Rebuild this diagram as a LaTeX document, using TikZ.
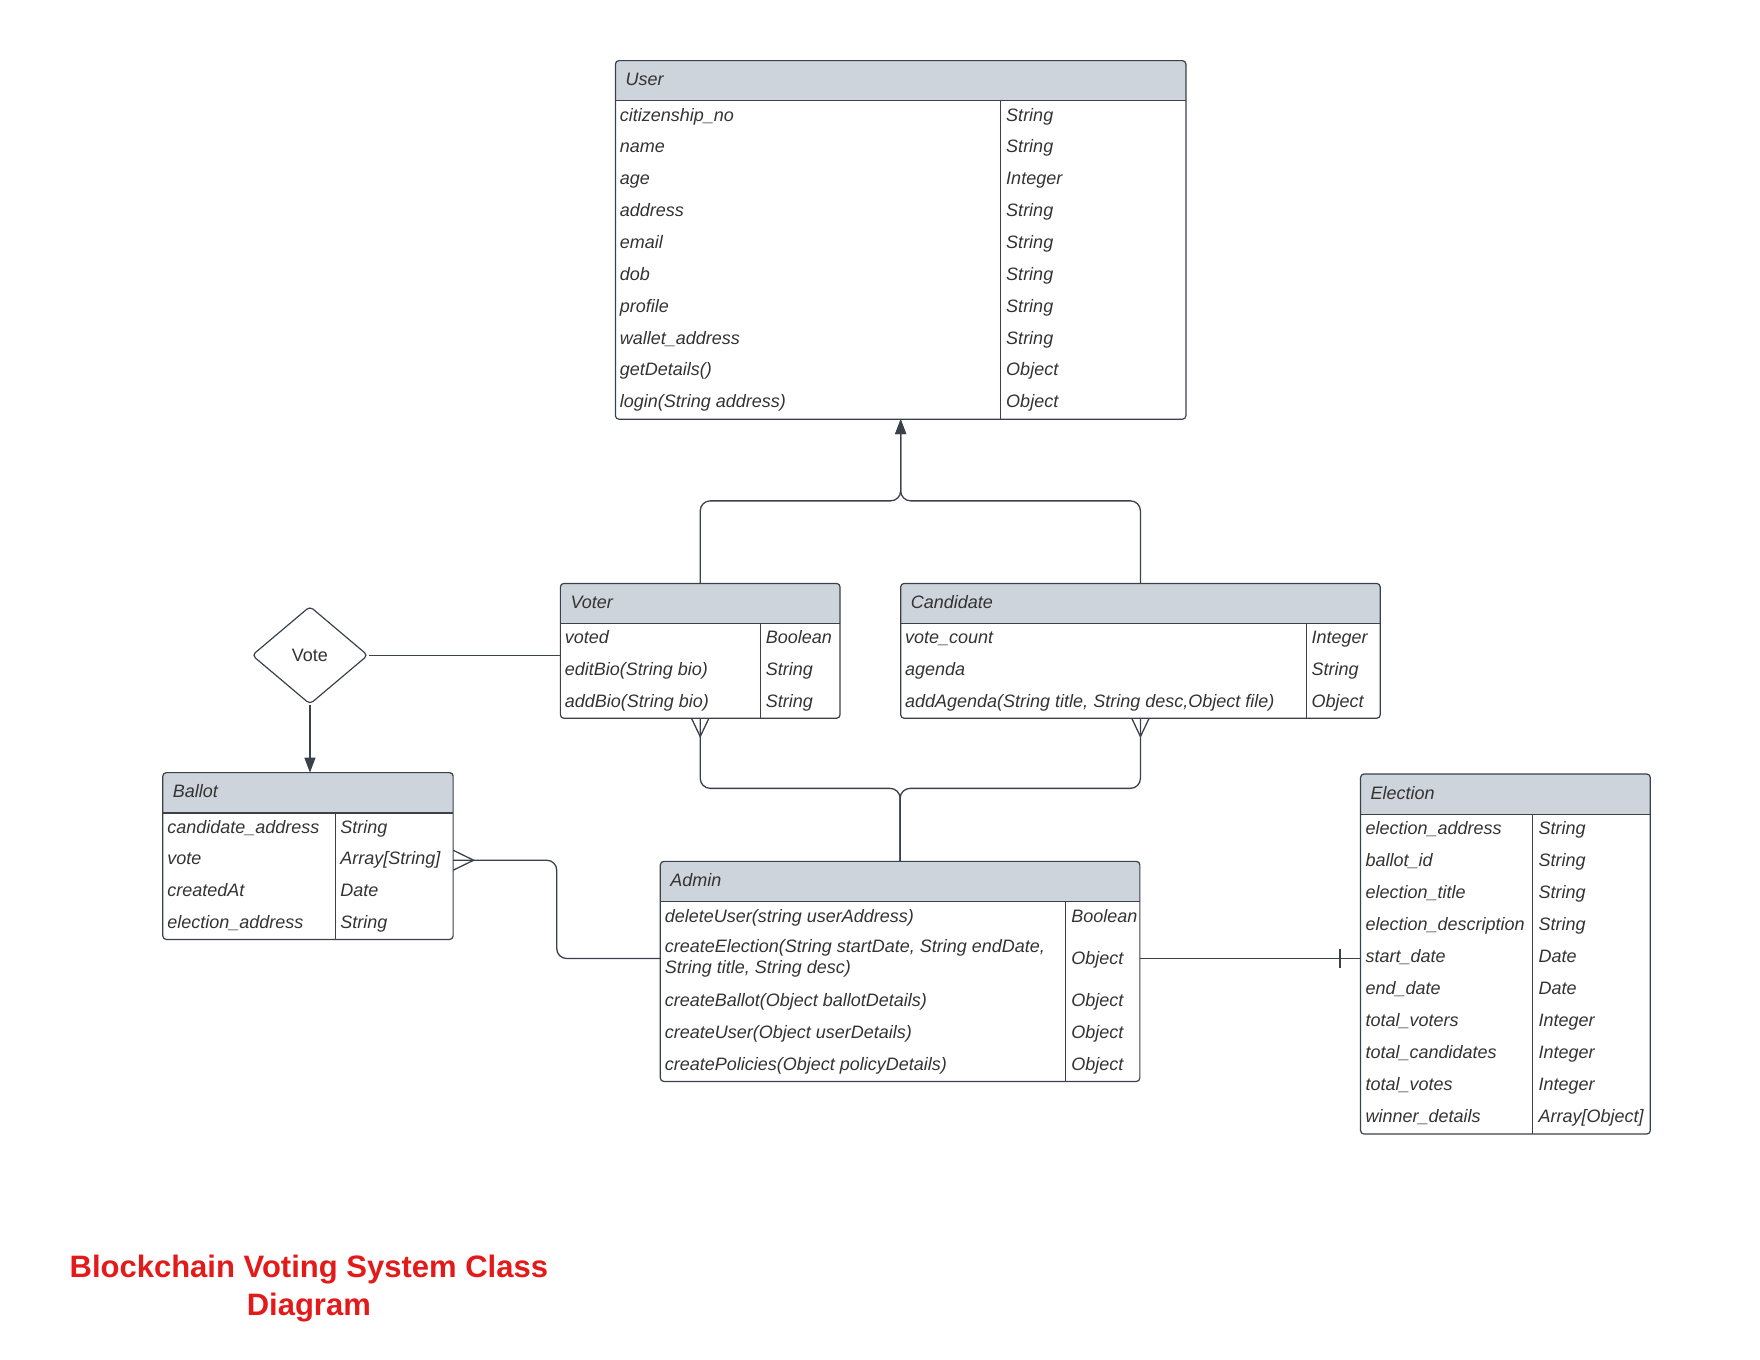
\documentclass[tikz,border=0pt]{standalone}
\usepackage{fontspec}
\setmainfont{Liberation Sans}
\usetikzlibrary{arrows.meta,shapes.geometric,calc,fit}
\definecolor{linec}{HTML}{3A414A}
\definecolor{headf}{HTML}{CED4DB}
\definecolor{txt}{HTML}{333333}
\definecolor{titlered}{HTML}{E41A1A}
\newcommand\umlclass[8]{%
  \fill[headf, rounded corners=3.5pt] (#2,#3) rectangle (#4,#5);
  \fill[headf] (#2,#3+6) rectangle (#4,#5);
  \draw[linec, line width=1.2pt] (#2,#5) -- (#4,#5);
  \draw[linec, line width=1pt] (#7,#5) -- (#7,#6);
  \node[boxframe, fit={(#2,#3) (#4,#6)}] (#1) {};
  \node[rowtext] (#1-title) at ({#2+9},{(#3+#5)/2+4.5}) {#8};
}
\newcommand\crow[6]{%
  \node[rowtext] (#1a) at (#2,#4) {#5};
  \node[rowtext] (#1b) at (#3,#4) {#6};
}
\begin{document}
\begin{tikzpicture}[x=1.123pt,y=-1.123pt,
  rowtext/.style={anchor=base west, inner sep=0pt, outer sep=0pt, text=txt, font=\fontsize{18}{21.3}\selectfont\itshape},
  boxframe/.style={draw=linec, line width=1.2pt, rounded corners=3.5pt, inner sep=0pt, outer sep=0pt},
  conn/.style={draw=linec, line width=1.3pt},
  tip/.style={-{Triangle[length=15pt,width=11pt]}},
  titletext/.style={anchor=base, inner sep=0pt, text=titlered, font=\fontsize{31}{37}\selectfont\bfseries}]
\useasboundingbox (0,0) rectangle (1567.2,1211);

% User
\umlclass{user}{548}{54}{1056}{89.6}{373.3}{891}{User}
\crow{user-1}{552}{896}{107.8}{citizenship\_no}{String}
\crow{user-2}{552}{896}{136.2}{name}{String}
\crow{user-3}{552}{896}{164.5}{age}{Integer}
\crow{user-4}{552}{896}{192.9}{address}{String}
\crow{user-5}{552}{896}{221.3}{email}{String}
\crow{user-6}{552}{896}{249.6}{dob}{String}
\crow{user-7}{552}{896}{278.0}{profile}{String}
\crow{user-8}{552}{896}{306.4}{wallet\_address}{String}
\crow{user-9}{552}{896}{334.8}{getDetails()}{Object}
\crow{user-10}{552}{896}{363.1}{login(String address)}{Object}

% Voter
\umlclass{voter}{499}{519.5}{748}{555.3}{639.6}{677}{Voter}
\crow{voter-1}{503}{682}{573.4}{voted}{Boolean}
\crow{voter-2}{503}{682}{601.5}{editBio(String bio)}{String}
\crow{voter-3}{503}{682}{629.6}{addBio(String bio)}{String}

% Candidate
\umlclass{candidate}{802}{519.5}{1229}{555.3}{639.6}{1163}{Candidate}
\crow{cand-1}{806}{1168}{573.4}{vote\_count}{Integer}
\crow{cand-2}{806}{1168}{601.5}{agenda}{String}
\crow{cand-3}{806}{1168}{629.6}{addAgenda(String title, String desc,Object file)}{Object}

% Ballot
\umlclass{ballot}{145}{688}{403.5}{724}{836.5}{299}{Ballot}
\crow{ballot-1}{149}{303}{742.1}{candidate\_address}{String}
\crow{ballot-2}{149}{303}{770.2}{vote}{Array[String]}
\crow{ballot-3}{149}{303}{798.4}{createdAt}{Date}
\crow{ballot-4}{149}{303}{826.5}{election\_address}{String}

% Admin
\umlclass{admin}{588}{767}{1015}{803}{963}{949}{Admin}
\crow{admin-1}{592}{954}{821.2}{deleteUser(string userAddress)}{Boolean}
\crow{admin-2}{592}{954}{848}{createElection(String startDate, String endDate,}{}
\node[rowtext] (admin-2c) at (592,867) {String title, String desc)};
\node[rowtext] (admin-2d) at (954,858.6) {Object};
\crow{admin-3}{592}{954}{896.2}{createBallot(Object ballotDetails)}{Object}
\crow{admin-4}{592}{954}{924.5}{createUser(Object userDetails)}{Object}
\crow{admin-5}{592}{954}{952.8}{createPolicies(Object policyDetails)}{Object}

% Election
\umlclass{election}{1211.5}{689.2}{1469.5}{725.1}{1009.8}{1364.5}{Election}
\crow{elec-1}{1216}{1370}{743.5}{election\_address}{String}
\crow{elec-2}{1216}{1370}{772.0}{ballot\_id}{String}
\crow{elec-3}{1216}{1370}{800.4}{election\_title}{String}
\crow{elec-4}{1216}{1370}{828.9}{election\_description}{String}
\crow{elec-5}{1216}{1370}{857.3}{start\_date}{Date}
\crow{elec-6}{1216}{1370}{885.8}{end\_date}{Date}
\crow{elec-7}{1216}{1370}{914.2}{total\_voters}{Integer}
\crow{elec-8}{1216}{1370}{942.7}{total\_candidates}{Integer}
\crow{elec-9}{1216}{1370}{971.1}{total\_votes}{Integer}
\crow{elec-10}{1216}{1370}{999.6}{winner\_details}{Array[Object]}

% Vote diamond
\node[diamond, draw=linec, line width=1.2pt, rounded corners=4pt, minimum width=116pt, minimum height=98pt, inner sep=0pt, text=txt, font=\fontsize{18}{21}\selectfont] (vote) at (276,583.5) {Vote};

% inheritance
\coordinate (j1) at (802,446);
\draw[conn, tip, rounded corners=10pt] (voter.north) |- (j1) -- (user.south);
\draw[conn, tip, rounded corners=10pt] (candidate.north) |- (j1) -- (user.south);

% voter/candidate to admin
\coordinate (j2) at (801.5,702);
\draw[conn, rounded corners=10pt] (voter.south) |- (j2) -- (admin.north);
\draw[conn, rounded corners=10pt] (candidate.south) |- (j2) -- (admin.north);
\draw[conn] ([xshift=-8.7pt]voter.south) -- ([yshift=-18.3pt]voter.south) -- ([xshift=8.7pt]voter.south);
\draw[conn] ([xshift=-8.7pt]candidate.south) -- ([yshift=-18.3pt]candidate.south) -- ([xshift=8.7pt]candidate.south);

% vote relation
\draw[conn] (vote.east) -- (vote.east -| voter.west);
\draw[conn, tip] (vote.south) -- (vote.south |- ballot.north);

% ballot to admin
\coordinate (bE) at ([yshift=-4.2pt]ballot.east);
\coordinate (aW) at ([yshift=12.9pt]admin.west);
\draw[conn, rounded corners=10pt] (bE) -| ($(bE)!.5!(aW)$) |- (aW);
\draw[conn] ([yshift=10pt]bE) -- ([xshift=20.5pt]bE) -- ([yshift=-10pt]bE);

% admin to election
\coordinate (aE) at ([yshift=12.9pt]admin.east);
\coordinate (eW) at (aE -| election.west);
\draw[conn] (aE) -- (eW);
\draw[conn] ([xshift=-20.7pt,yshift=9.5pt]eW) -- ([xshift=-20.7pt,yshift=-9.5pt]eW);

% title
\node[titletext] (title1) at (275,1137.5) {Blockchain Voting System Class};
\node[titletext] (title2) at (275,1171) {Diagram};
\end{tikzpicture}
\end{document}
